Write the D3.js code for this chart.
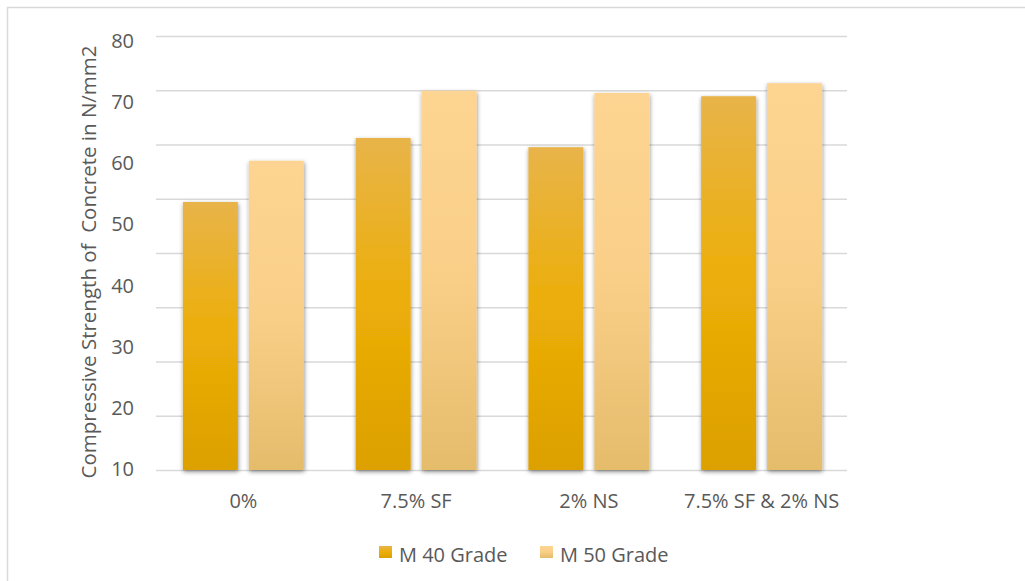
<!DOCTYPE html>
<html>
<head>
<meta charset="utf-8">
<script src="https://cdn.jsdelivr.net/npm/d3@7"></script>
<style>
  html, body { margin: 0; padding: 0; background: #fff; }
  svg { display: block; font-family: "Open Sans", sans-serif; }
  text { white-space: pre; }
</style>
</head>
<body>
<svg id="chart" width="1025" height="581"></svg>
<script>
const categories = ["0%", "7.5% SF", "2% NS", "7.5% SF & 2% NS"];
const seriesNames = ["M 40 Grade", "M 50 Grade"];
const m40Values = [49.4, 61.2, 59.5, 68.9];
const m50Values = [57.0, 69.9, 69.5, 71.3];
const gridTicks = [0, 10, 20, 30, 40, 50, 60, 70, 80];
const yTickLabels = ["10", "20", "30", "40", "50", "60", "70", "80"];
const yTitle = "Compressive Strength of  Concrete in N/mm2";

const svg = d3.select("#chart");
const W = 1025, H = 581;
const plot = { left: 156, right: 847, top: 36, bottom: 470 };

// outer border (only left & top visible in the reference)
svg.append("rect").attr("x", 7.5).attr("y", 7.5).attr("width", W + 20).attr("height", H + 20)
  .attr("fill", "#fff").attr("stroke", "#d9d9d9").attr("stroke-width", 1.5);

const defs = svg.append("defs");
const g40 = defs.append("linearGradient").attr("id", "g40").attr("x1", 0).attr("y1", 0).attr("x2", 0).attr("y2", 1);
[["0%", "#e8b449"], ["50%", "#ecae08"], ["100%", "#dca000"]].forEach(([o, c]) => g40.append("stop").attr("offset", o).attr("stop-color", c));
const g50 = defs.append("linearGradient").attr("id", "g50").attr("x1", 0).attr("y1", 0).attr("x2", 0).attr("y2", 1);
[["0%", "#fdd491"], ["50%", "#f9cf88"], ["100%", "#e5bc6b"]].forEach(([o, c]) => g50.append("stop").attr("offset", o).attr("stop-color", c));
const filt = defs.append("filter").attr("id", "shadow").attr("x", "-20%").attr("y", "-20%").attr("width", "140%").attr("height", "140%");
filt.append("feDropShadow").attr("dx", 0.5).attr("dy", 1.8).attr("stdDeviation", 2)
  .attr("flood-color", "#000").attr("flood-opacity", 0.45);

const y = d3.scaleLinear().domain([0, 80]).range([plot.bottom, plot.top]);
const yLab = d3.scalePoint().domain(yTickLabels).range([469, 41]);
const x0 = d3.scaleBand().domain(categories).range([plot.left + 1, plot.right + 1]).paddingInner(0.3).paddingOuter(0.15);
const x1 = d3.scaleBand().domain(seriesNames).range([0, x0.bandwidth()]).paddingInner(1 / 6);
const color = d3.scaleOrdinal().domain(seriesNames).range(["url(#g40)", "url(#g50)"]);

// gridlines
const grid = svg.append("g").attr("transform", `translate(${plot.left},0)`)
  .call(d3.axisLeft(y).tickValues(gridTicks).tickSize(-(plot.right - plot.left)).tickFormat(""));
grid.select(".domain").remove();
grid.selectAll("line").attr("stroke", "#d9d9d9").attr("stroke-width", 1.5);

// y labels
svg.append("g").selectAll("text").data(yTickLabels).join("text")
  .attr("x", 134).attr("y", d => yLab(d)).attr("dy", "0.35em")
  .attr("text-anchor", "end").attr("font-size", 20).attr("fill", "#595959").text(d => d);

// y title
svg.append("text").attr("transform", `translate(96,262) rotate(-90)`)
  .attr("text-anchor", "middle").attr("font-size", 20.5).attr("fill", "#595959").text(yTitle);

// bars
const rows = categories.map((c, i) => ({ cat: c, vals: [m40Values[i], m50Values[i]] }));
const groups = svg.append("g").selectAll("g").data(rows).join("g")
  .attr("transform", d => `translate(${x0(d.cat)},0)`);
groups.selectAll("rect").data(d => d.vals.map((v, j) => ({ s: seriesNames[j], v })))
  .join("rect")
  .attr("x", d => x1(d.s)).attr("width", x1.bandwidth())
  .attr("y", d => y(d.v)).attr("height", d => y(0) - y(d.v))
  .attr("fill", d => color(d.s)).attr("filter", "url(#shadow)");

// x labels
svg.append("g").selectAll("text").data(categories).join("text")
  .attr("x", d => x0(d) + x0.bandwidth() / 2).attr("y", 508)
  .attr("text-anchor", "middle").attr("font-size", 20).attr("fill", "#595959").text(d => d);

// legend
const legX = [379, 540];
const leg = svg.append("g").selectAll("g").data(seriesNames).join("g")
  .attr("transform", (d, i) => `translate(${legX[i]},546)`);
leg.append("rect").attr("width", 13).attr("height", 12).attr("fill", d => color(d));
leg.append("text").attr("x", 20).attr("y", 16).attr("font-size", 20).attr("fill", "#595959").text(d => d);
</script>
</body>
</html>
